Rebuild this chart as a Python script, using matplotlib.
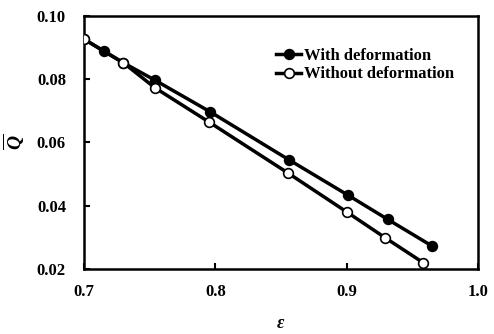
import matplotlib
matplotlib.use("Agg")
import matplotlib.pyplot as plt

eps_with = [0.70, 0.715, 0.730, 0.754, 0.796, 0.856, 0.901, 0.931, 0.965]
q_with = [0.0927, 0.0889, 0.0852, 0.0797, 0.0697, 0.0545, 0.0433, 0.0357, 0.0272]
eps_without = [0.70, 0.730, 0.754, 0.795, 0.855, 0.900, 0.929, 0.958]
q_without = [0.0927, 0.0852, 0.0773, 0.0665, 0.0504, 0.0380, 0.0299, 0.0220]
xticks = [0.7, 0.8, 0.9, 1.0]
yticks = [0.02, 0.04, 0.06, 0.08, 0.10]

plt.rcParams['font.family'] = ['Liberation Serif', 'DejaVu Serif']
plt.rcParams['font.weight'] = 'bold'
plt.rcParams['mathtext.fontset'] = 'custom'
plt.rcParams['mathtext.rm'] = 'Liberation Serif:bold'
plt.rcParams['mathtext.it'] = 'Liberation Serif:italic:bold'
plt.rcParams['mathtext.bf'] = 'Liberation Serif:italic:bold'

fig = plt.figure(figsize=(4.94, 3.34), dpi=100)
ax = fig.add_axes([0.170, 0.195, 0.798, 0.757])

ax.plot(eps_with, q_with, '-o', color='black', lw=2.5, ms=7, mfc='black', mec='black',
        mew=1.2, label='With deformation', zorder=2)
ax.plot(eps_without, q_without, '-o', color='black', lw=2.5, ms=7, mfc='white', mec='black',
        mew=1.2, label='Without deformation', zorder=3)

ax.set_xlim(0.7, 1.0)
ax.set_ylim(0.02, 0.10)
ax.set_xticks(xticks)
ax.set_xticklabels(['0.7', '0.8', '0.9', '1.0'])
ax.set_yticks(yticks)
ax.set_yticklabels(['0.02', '0.04', '0.06', '0.08', '0.10'])
ax.tick_params(direction='in', length=4, width=1.5, labelsize=12, top=False, right=False)
ax.tick_params(axis='x', pad=11)
ax.tick_params(axis='y', pad=13)
for s in ax.spines.values():
    s.set_linewidth(1.8)

ax.set_xlabel(r'$\varepsilon$', fontsize=13, labelpad=11)
ax.set_ylabel(r'$\overline{Q}$', fontsize=14, rotation=90)
ax.yaxis.set_label_coords(-0.145, 0.5)
for lbl in ax.get_xticklabels() + ax.get_yticklabels():
    lbl.set_fontweight('bold')

leg = ax.legend(loc='upper right', bbox_to_anchor=(0.955, 0.90), frameon=False, fontsize=12,
                handlelength=1.5, handletextpad=0.15, labelspacing=0.15, borderaxespad=0)

fig.savefig('out.png', dpi=100)
